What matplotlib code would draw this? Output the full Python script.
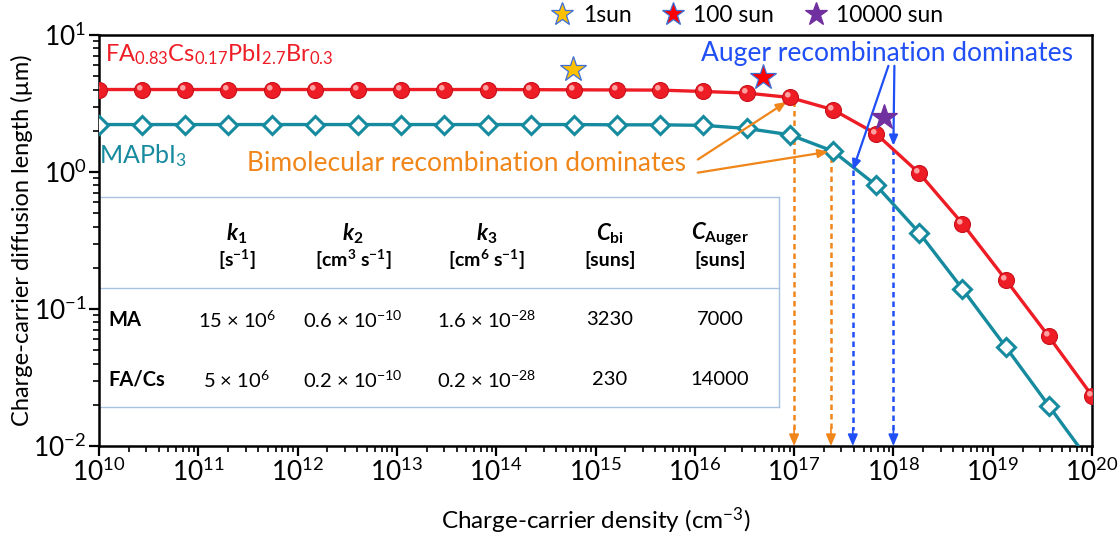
import matplotlib

matplotlib.use("Agg")
import matplotlib.pyplot as plt
from matplotlib.lines import Line2D
from matplotlib.markers import MarkerStyle
from matplotlib.ticker import LogLocator
from matplotlib.transforms import Affine2D

plt.rcParams["font.family"] = ["Lato", "DejaVu Sans"]
plt.rcParams["mathtext.fontset"] = "custom"
plt.rcParams["mathtext.rm"] = "Lato"
plt.rcParams["mathtext.it"] = "Lato:italic"
plt.rcParams["mathtext.bf"] = "Lato:bold"
plt.rcParams["mathtext.bfit"] = "Lato:italic:bold"

# ---- data ----
density = [1.0e10, 2.72e10, 7.41e10, 2.01e11, 5.48e11, 1.49e12, 4.06e12, 1.10e13,
           3.01e13, 8.19e13, 2.23e14, 6.06e14, 1.65e15, 4.49e15, 1.22e16, 3.32e16,
           9.05e16, 2.46e17, 6.70e17, 1.82e18, 4.96e18, 1.35e19, 3.67e19, 1.0e20]
L_facs = [4.0, 4.0, 4.0, 4.0, 4.0, 4.0, 4.0, 4.0, 4.0, 4.0, 3.99, 3.98,
          3.97, 3.96, 3.87, 3.77, 3.50, 2.85, 1.90, 0.98, 0.42, 0.164, 0.063, 0.0233]
L_ma = [2.22, 2.22, 2.22, 2.22, 2.22, 2.22, 2.22, 2.22, 2.22, 2.22, 2.22, 2.22,
        2.21, 2.21, 2.19, 2.08, 1.87, 1.42, 0.80, 0.36, 0.14, 0.053, 0.0197, 0.0073]

sun_labels = ["1sun", "100 sun", "10000 sun"]
sun_density = [5.9e14, 4.9e16, 8.0e17]
sun_L = [5.6, 4.9, 2.5]
sun_face = ["#ffc000", "#ff0000", "#7030a0"]
sun_edge = ["#3d6fd6", "#3d6fd6", "#7030a0"]

# vertical guide lines: density and the top of each dotted line
bimol_n = [1.0e17, 2.35e17]
bimol_top = [3.3, 1.28]
auger_n = [3.9e17, 1.0e18]
auger_top = [1.03, 1.48]

table_cols = [r"$\mathbfit{k}_{\mathbf{1}}$", r"$\mathbfit{k}_{\mathbf{2}}$",
              r"$\mathbfit{k}_{\mathbf{3}}$", r"$\mathbfit{C}_{\mathbf{bi}}$",
              r"$\mathbfit{C}_{\mathbf{Auger}}$"]
table_units = [r"[s$^{\mathbf{-1}}$]", r"[cm$^{\mathbf{3}}$ s$^{\mathbf{-1}}$]",
               r"[cm$^{\mathbf{6}}$ s$^{\mathbf{-1}}$]", "[suns]", "[suns]"]
table_rows = ["MA", "FA/Cs"]
table_vals = [
    [r"15 × 10$^{6}$", r"0.6 × 10$^{-10}$", r"1.6 × 10$^{-28}$", "3230", "7000"],
    [r"5 × 10$^{6}$", r"0.2 × 10$^{-10}$", r"0.2 × 10$^{-28}$", "230", "14000"],
]

RED = "#ee1c25"
TEAL = "#168a9e"
ORANGE = "#f08519"
BLUE = "#1f4ff5"
GRID_BLUE = "#a8c3e2"

fig = plt.figure(figsize=(11.2, 5.39), dpi=100)
ax = fig.add_axes([99 / 1120, 1 - 446 / 539, 993 / 1120, 411 / 539])
ax.set_xscale("log")
ax.set_yscale("log")
ax.set_xlim(1e10, 1e20)
ax.set_ylim(1e-2, 1e1)
ax.xaxis.set_major_locator(LogLocator(base=10, numticks=20))
ax.xaxis.set_minor_locator(LogLocator(base=10, subs=range(2, 10), numticks=200))

# curves
ax.plot(density, L_facs, color=RED, lw=2.4, zorder=3)
ax.plot(density, L_facs, ls="none", marker="o", ms=11.5, mfc=RED, mec="#c8101a",
        mew=0.8, zorder=4)
hl = MarkerStyle("o", transform=Affine2D().scale(0.35).translate(-0.17, 0.17))
ax.plot(density, L_facs, ls="none", marker=hl, ms=11.5, mfc="#ffb0b0", mec="none",
        alpha=0.9, zorder=5)
ax.plot(density, L_ma, color=TEAL, lw=2.4, marker="D", ms=9.5, mfc="white",
        mec=TEAL, mew=2.2, zorder=3)

# sun markers
for n, L, fc, ec in zip(sun_density, sun_L, sun_face, sun_edge):
    ax.plot(n, L, ls="none", marker="*", ms=19, mfc=fc, mec=ec, mew=0.9, zorder=6)

# guide lines with arrowheads on the x axis
for xs, tops, c in [(bimol_n, bimol_top, ORANGE), (auger_n, auger_top, BLUE)]:
    for n, top in zip(xs, tops):
        ax.plot([n, n], [top, 1.3e-2], color=c, lw=1.8, ls=(0, (2.2, 1.6)), zorder=2)
        ax.annotate("", xy=(n, 1e-2), xytext=(n, 1.35e-2),
                    arrowprops=dict(arrowstyle="-|>,head_length=0.7,head_width=0.3",
                                    color=c, lw=1.2, shrinkA=0, shrinkB=0))

# text labels
ax.text(0.006, 0.952, r"FA$_{0.83}$Cs$_{0.17}$PbI$_{2.7}$Br$_{0.3}$", color=RED,
        fontsize=17, transform=ax.transAxes, va="center", ha="left")
ax.text(0.0, 0.706, r"MAPbI$_{3}$", color=TEAL, fontsize=18,
        transform=ax.transAxes, va="center", ha="left")
ax.text(0.3696, 0.688, "Bimolecular recombination dominates", color=ORANGE,
        fontsize=19, transform=ax.transAxes, va="center", ha="center")
ax.text(0.7936, 0.956, "Auger recombination dominates", color=BLUE,
        fontsize=19, transform=ax.transAxes, va="center", ha="center")

# pointer arrows
arrow_kw = dict(arrowstyle="-|>,head_length=0.6,head_width=0.25", lw=1.6,
                shrinkA=0, shrinkB=0)
ax.annotate("", xy=(density[16] * 0.93, L_facs[16] * 0.93), xytext=(0.603, 0.697),
            textcoords="axes fraction", arrowprops=dict(color=ORANGE, **arrow_kw))
ax.annotate("", xy=(density[17] * 0.9, L_ma[17] * 0.99), xytext=(0.603, 0.665),
            textcoords="axes fraction", arrowprops=dict(color=ORANGE, **arrow_kw))
ax.annotate("", xy=(auger_n[0], auger_top[0]), xytext=(0.795, 0.925),
            textcoords="axes fraction", arrowprops=dict(color=BLUE, **arrow_kw))
ax.annotate("", xy=(auger_n[1], auger_top[1] * 1.05), xytext=(0.801, 0.925),
            textcoords="axes fraction", arrowprops=dict(color=BLUE, **arrow_kw))

# parameter table
tx0, tx1 = 0.001, 0.685
ty_top, ty_mid, ty_bot = 0.606, 0.385, 0.095
ax.fill_between([tx0, tx1], ty_bot, ty_top, color="white", transform=ax.transAxes,
                zorder=1)
for yy in (ty_top, ty_mid, ty_bot):
    ax.plot([tx0, tx1], [yy, yy], color=GRID_BLUE, lw=1.0, transform=ax.transAxes,
            zorder=1.5)
ax.plot([tx1, tx1], [ty_bot, ty_top], color=GRID_BLUE, lw=1.0,
        transform=ax.transAxes, zorder=1.5)

col_x = [0.1387, 0.2558, 0.3904, 0.5146, 0.6254]
row_y = [0.3066, 0.1606]
for cx, head, unit in zip(col_x, table_cols, table_units):
    ax.text(cx, 0.515, head, fontsize=16, ha="center", va="center",
            transform=ax.transAxes)
    ax.text(cx, 0.4526, unit, fontsize=14, fontweight="bold", ha="center",
            va="center", transform=ax.transAxes)
for ry, name, vals in zip(row_y, table_rows, table_vals):
    ax.text(0.009, ry, name, fontsize=14.5, fontweight="bold", ha="left",
            va="center", transform=ax.transAxes)
    for cx, v in zip(col_x, vals):
        ax.text(cx, ry, v, fontsize=14.5, ha="center", va="center",
                transform=ax.transAxes)

# axes styling
for sp in ax.spines.values():
    sp.set_linewidth(1.8)
ax.tick_params(which="major", direction="out", length=7, width=1.6, labelsize=19,
               pad=2)
ax.tick_params(which="minor", direction="out", length=4, width=1.2)
ax.set_xlabel(r"Charge-carrier density (cm$^{-3}$)", fontsize=17.5)
ax.set_ylabel("Charge-carrier diffusion length (µm)", fontsize=17)
ax.xaxis.set_label_coords(0.5, -0.145)
ax.yaxis.set_label_coords(-0.066, 0.5)

# legend for the illumination markers
handles = [Line2D([], [], ls="none", marker="*", ms=17, mfc=fc, mec=ec, mew=0.9)
           for fc, ec in zip(sun_face, sun_edge)]
fig.legend(handles, sun_labels, loc="center", bbox_to_anchor=(0.667, 1 - 16 / 539),
           ncol=3, frameon=False, fontsize=16.5, handlelength=1.0,
           handletextpad=0.4, columnspacing=1.3, borderaxespad=0)

fig.savefig("out.png", dpi=100)
